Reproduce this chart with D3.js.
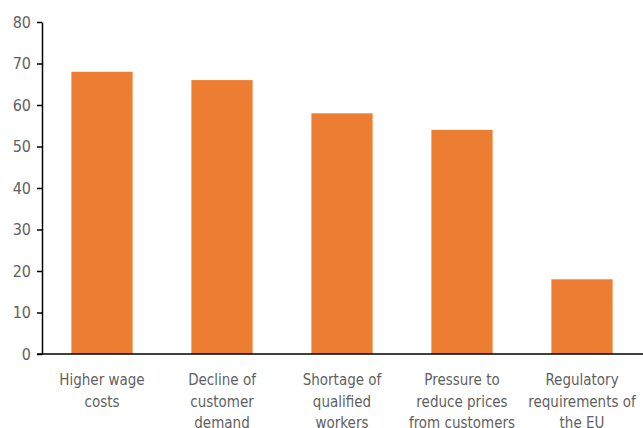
<!DOCTYPE html>
<html>
<head>
<meta charset="utf-8">
<script src="https://cdn.jsdelivr.net/npm/d3@7"></script>
<style>
  html, body { margin: 0; padding: 0; background: #fff; }
  svg { display: block; }
  text { font-family: "DejaVu Sans Condensed", "DejaVu Sans", sans-serif; fill: #5f5f5f; }
</style>
</head>
<body>
<svg id="chart" width="643" height="428"></svg>
<script>
// Category labels (split into lines) and their values
const categories = [
  ["Higher wage", "costs"],
  ["Decline of", "customer", "demand"],
  ["Shortage of", "qualified", "workers"],
  ["Pressure to", "reduce prices", "from customers"],
  ["Regulatory", "requirements of", "the EU"]
];
const values = [68, 66, 58, 54, 18];
const yTicks = [0, 10, 20, 30, 40, 50, 60, 70, 80];

const svg = d3.select("#chart");
const margin = { left: 42, right: 1, top: 22, bottom: 74 };
const W = 643, H = 428;
const FONT = "'DejaVu Sans Condensed', 'DejaVu Sans', sans-serif";

const x = d3.scaleBand()
  .domain(d3.range(values.length))
  .range([margin.left, W - margin.right])
  .paddingInner(0.49)
  .paddingOuter(0.245);

const y = d3.scaleLinear()
  .domain([0, 80])
  .range([H - margin.bottom, margin.top]);

// Bars
svg.append("g")
  .selectAll("rect")
  .data(values)
  .join("rect")
  .attr("x", (d, i) => x(i))
  .attr("y", d => y(d))
  .attr("width", x.bandwidth())
  .attr("height", d => y(0) - y(d))
  .attr("fill", "#ED7D31");

// Y axis
const yAxis = svg.append("g")
  .attr("transform", `translate(${margin.left},0)`)
  .call(d3.axisLeft(y).tickValues(yTicks).tickSize(5).tickPadding(6).tickSizeOuter(0));
yAxis.attr("font-size", null).attr("font-family", null);
yAxis.select(".domain").attr("stroke", "#000").attr("stroke-width", 1.5);
yAxis.selectAll(".tick line").attr("stroke", "#000").attr("stroke-width", 1.5);
yAxis.selectAll(".tick text")
  .style("font-size", "16px")
  .style("font-family", FONT)
  .attr("fill", "#5f5f5f");

// X axis baseline
svg.append("line")
  .attr("x1", margin.left - 5)
  .attr("x2", W)
  .attr("y1", y(0))
  .attr("y2", y(0))
  .attr("stroke", "#000")
  .attr("stroke-width", 1.5);

// Category labels
const labels = svg.append("g")
  .selectAll("text")
  .data(categories)
  .join("text")
  .attr("text-anchor", "middle")
  .style("font-size", "15px")
  .style("font-family", FONT)
  .attr("transform", (d, i) => `translate(${x(i) + x.bandwidth() / 2},${y(0) + 31})`);
labels.selectAll("tspan")
  .data(d => d)
  .join("tspan")
  .attr("x", 0)
  .attr("dy", (d, j) => j === 0 ? 0 : 21.5)
  .text(d => d);
</script>
</body>
</html>
